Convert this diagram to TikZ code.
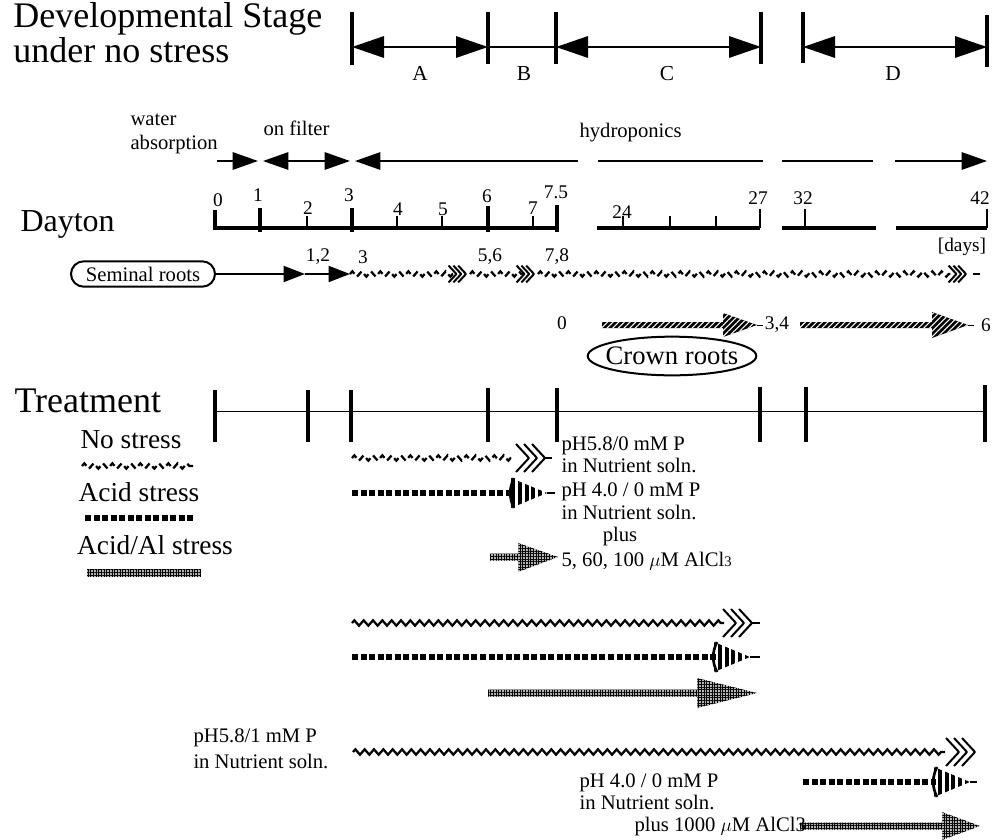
\documentclass[tikz,border=0pt]{standalone}
\usepackage{fontspec}
\setmainfont{Liberation Serif}
\usetikzlibrary{arrows.meta,patterns.meta,decorations.pathmorphing,shapes.geometric,shapes.misc}

\tikzset{every picture/.style={line width=0.75pt}}
\tikzset{
  bigtip/.tip={Triangle[length=24pt,width=16pt]},
  midtip/.tip={Triangle[length=19pt,width=13pt]},
  smalltip/.tip={Triangle[length=16pt,width=12pt]},
  pics/nshead/.style={code={
    \foreach \i in {0,1,2}
      \draw[line width=1.5pt, line join=round] ({-13-8*\i},-14) -- ({-8*\i},0) -- ({-13-8*\i},14);
  }},
  pics/acidhead/.style={code={
    \fill[pattern={Lines[angle=90,distance=5pt,line width=2.8pt]}] (-36,-15) -- (0,0) -- (-36,15) -- cycle;
    \draw[line width=2pt] (-33,-15) .. controls (-38,-5) and (-38,5) .. (-33,15);
  }}
}

\begin{document}
\begin{tikzpicture}[
            x=0.75pt,
            y=0.75pt,
            yscale=-1,
            xscale=1,
            every node/.style={text=black, inner sep=0.75pt},
            line width=0.75pt,
            bigtxt/.style={font=\fontsize{27}{21}\selectfont},
            legtxt/.style={font=\fontsize{20.5}{22}\selectfont},
            smalltxt/.style={font=\fontsize{15.5}{15}\selectfont},
            numtxt/.style={font=\fontsize{14.5}{15}\selectfont},
            stagetxt/.style={font=\fontsize{16}{18}\selectfont},
            stagebar/.style={line width=3pt},
            stagearrow/.style={line width=1.6pt},
            phasearrow/.style={line width=1.5pt},
            axisline/.style={line width=3pt},
            minortick/.style={line width=1pt},
            nswave/.style={line width=1.7pt, decorate, decoration={zigzag, segment length=7pt, amplitude=2pt}},
            nsdash/.style={nswave, dash pattern=on 5pt off 3pt},
            acidbar/.style={line width=5pt, dash pattern=on 4.5pt off 1.9pt},
            alfill/.style={preaction={fill=black!30}, pattern={Hatch[distance=2pt,line width=0.6pt]}},
            crownfill/.style={preaction={fill=black}, pattern={Lines[angle=45,distance=3pt,line width=0.8pt]}, pattern color=white}
        ]
            \useasboundingbox (0,0) rectangle (996,839);

            % developmental stages
            \node[bigtxt, align=left, anchor=base west] (devstage) at (12,62) {Developmental Stage\\under no stress};
            \draw[stagebar] (352,12) -- (352,65);
            \draw[stagebar] (488,12) -- (488,64);
            \draw[stagebar] (556,12) -- (556,64);
            \draw[stagebar] (761,12) -- (761,64);
            \draw[stagebar] (803,12) -- (803,63);
            \draw[stagebar] (987,15) -- (987,67);
            \draw[stagearrow, {bigtip}-{bigtip}] (352,47) -- (488,47);
            \draw[stagearrow] (488,47) -- (556,47);
            \draw[stagearrow, {bigtip}-{bigtip}] (556,47) -- (761,47);
            \draw[stagearrow, {bigtip}-{bigtip}] (803,47) -- (987,47);
            \node[stagetxt, anchor=base] (stA) at (420,80) {A};
            \node[stagetxt, anchor=base] (stB) at (524,80) {B};
            \node[stagetxt, anchor=base] (stC) at (667,80) {C};
            \node[stagetxt, anchor=base] (stD) at (893,80) {D};

            % culture phases
            \node[font=\fontsize{15.5}{18}\selectfont, align=left, anchor=base west] (water) at (129,149) {water\\absorption};
            \node[smalltxt, anchor=base west] (filter) at (262,135) {on filter};
            \node[smalltxt, anchor=base west] (hydro) at (578,137) {hydroponics};
            \draw[phasearrow, -{midtip}] (217,161) -- (258,161);
            \draw[phasearrow, {midtip}-{midtip}] (263,161) -- (350,161);
            \draw[phasearrow, {midtip}-] (355,161) -- (578,161);
            \draw[phasearrow] (598,161) -- (763,161);
            \draw[phasearrow] (782,161) -- (873,161);
            \draw[phasearrow, -{midtip}] (895,161) -- (987,161);

            % Dayton time axis
            \node[font=\fontsize{24}{28}\selectfont, anchor=base west] (dayton) at (19,231) {Dayton};
            \draw[axisline] (215,210) -- (215,228) -- (557,228);
            \draw[axisline] (597,228) -- (760,228);
            \draw[axisline] (782,228) -- (876,228);
            \draw[axisline] (896,228) -- (987,228);
            \foreach \x/\t in {260/208, 352/208, 488/206, 557/205}
                \draw[axisline] (\x,\t) -- (\x,232);
            \foreach \x in {307, 397, 442, 533, 623, 670, 716}
                \draw[minortick] (\x,216) -- (\x,228);
            \foreach \x in {760, 805, 987}
                \draw[minortick] (\x,209) -- (\x,228);
            \node[numtxt] (d0) at (218,200) {0};
            \node[numtxt] (d1) at (258,195) {1};
            \node[numtxt] (d2) at (308,208) {2};
            \node[numtxt] (d3) at (349,195) {3};
            \node[numtxt] (d4) at (398,209) {4};
            \node[numtxt] (d5) at (443,209) {5};
            \node[numtxt] (d6) at (487,196) {6};
            \node[numtxt] (d7) at (533,208) {7};
            \node[numtxt] (d75) at (556,192) {7.5};
            \node[numtxt] (d24) at (622,212) {24};
            \node[numtxt] (d27) at (758,198) {27};
            \node[numtxt] (d32) at (803,198) {32};
            \node[numtxt] (d42) at (980,198) {42};
            \node[numtxt] (days) at (962,247) {[days]};

            % seminal roots
            \node[smalltxt, draw, rounded rectangle, line width=1.5pt, minimum width=110pt, minimum height=19pt, inner sep=1pt] (seminal) at (143,274) {Seminal roots};
            \coordinate (sr12) at (305,274);
            \coordinate (sr3) at (350,274);
            \draw[line width=1.2pt, -{smalltip}] (seminal.east) -- (sr12);
            \draw[line width=1.2pt, -{smalltip}] (sr12) -- (sr3);
            \node[numtxt] (s12) at (318,257) {1,2};
            \node[numtxt] (s3) at (363,257) {3};
            \node[numtxt] (s56) at (490,257) {5,6};
            \node[numtxt] (s78) at (557,257) {7,8};
            \draw[nsdash] (sr3) -- (455,274);
            \pic[scale=0.6] at (466,274) {nshead};
            \draw[nsdash] (470,274) -- (523,274);
            \pic[scale=0.6] at (534,274) {nshead};
            \draw[nsdash] (538,274) -- (952,274);
            \pic[scale=0.6] at (966,274) {nshead};
            \draw[line width=1.2pt] (973,274) -- (980,274);

            % crown roots
            \node[numtxt] (c0) at (562,323) {0};
            \fill[crownfill] (602,322) -- (723,322) -- (723,313) -- (757,325) -- (723,337) -- (723,328) -- (602,328) -- cycle;
            \draw (757,325) -- (763,325);
            \node[numtxt] (c34) at (777,325) {3,4};
            \fill[crownfill] (800,322) -- (932,322) -- (932,312) -- (968,325) -- (932,338) -- (932,328) -- (800,328) -- cycle;
            \draw (968,325) -- (974,325);
            \node[numtxt] (c6) at (986,325) {6};
            \node[draw, ellipse, line width=1.5pt, minimum height=29pt, inner xsep=-5pt, inner ysep=0pt, font=\fontsize{20}{23}\selectfont] (crown) at (672,356) {Crown roots};

            % treatment axis
            \node[font=\fontsize{27}{30}\selectfont, anchor=base west] (treat) at (13,412) {Treatment};
            \draw (215,411) -- (987,411);
            \foreach \x/\t in {215/390, 308/390, 351/390, 488/388, 557/388, 760/387, 806/387, 985/385}
                \draw[stagebar] (\x,\t) -- (\x,442);

            % legend
            \node[legtxt] (lgno) at (131,440) {No stress};
            \draw[nsdash] (82,466) -- (193,466);
            \node[legtxt] (lgacid) at (139,492) {Acid stress};
            \draw[acidbar] (85,518) -- (195,518);
            \node[legtxt] (lgal) at (155,545) {Acid/Al stress};
            \fill[alfill] (87,569.5) rectangle (201,576.5);

            % treatment during stage A/B
            \draw[nsdash] (352,458) -- (515,458);
            \pic at (545,458) {nshead};
            \draw[line width=1.2pt] (545,458) -- (552,458);
            \draw[acidbar] (352,493) -- (512,493);
            \pic at (547,493) {acidhead};
            \draw[line width=1.2pt] (547,493) -- (555,493);
            \fill[alfill] (490,553.5) -- (518,553.5) -- (518,543) -- (558,557) -- (518,572) -- (518,560.5) -- (490,560.5) -- cycle;
            \node[smalltxt, anchor=base west] (t1a) at (560,450) {pH5.8/0 mM P};
            \node[smalltxt, anchor=base west] (t1b) at (560,472) {in Nutrient soln.};
            \node[smalltxt, anchor=base west] (t1c) at (560,496) {pH 4.0 / 0 mM P};
            \node[smalltxt, anchor=base west] (t1d) at (560,519) {in Nutrient soln.};
            \node[smalltxt, anchor=base] (t1e) at (620,541) {plus};
            \node[smalltxt, anchor=base west] (t1f) at (560,566) {5, 60, 100 $\mu$M AlCl{\fontsize{11}{11}\selectfont 3}};

            % treatment up to stage C
            \draw[nswave] (352,623) -- (724,623);
            \pic at (752,623) {nshead};
            \draw[line width=1.2pt] (752,623) -- (760,623);
            \draw[acidbar] (352,657) -- (716,657);
            \pic at (750,657) {acidhead};
            \draw[line width=1.2pt] (750,657) -- (760,657);
            \fill[alfill] (488,689.5) -- (697,689.5) -- (697,678) -- (757,693) -- (697,708) -- (697,696.5) -- (488,696.5) -- cycle;

            % treatment up to stage D
            \node[font=\fontsize{15.5}{19}\selectfont, align=left, anchor=base west] (t3a) at (192,768) {pH5.8/1 mM P\\in Nutrient soln.};
            \draw[nswave] (353,752) -- (945,752);
            \pic at (975,752) {nshead};
            \draw[acidbar] (803,782) -- (936,782);
            \pic at (970,782) {acidhead};
            \draw[line width=1.2pt] (970,782) -- (977,782);
            \fill[alfill] (800,822.5) -- (942,822.5) -- (942,812) -- (980,826) -- (942,840) -- (942,829.5) -- (800,829.5) -- cycle;
            \node[smalltxt, anchor=base west] (t3b) at (578,787) {pH 4.0 / 0 mM P};
            \node[smalltxt, anchor=base west] (t3c) at (578,809) {in Nutrient soln.};
            \node[smalltxt, anchor=base west] (t3d) at (633,831) {plus 1000 $\mu$M AlCl3};
        \end{tikzpicture}
\end{document}
